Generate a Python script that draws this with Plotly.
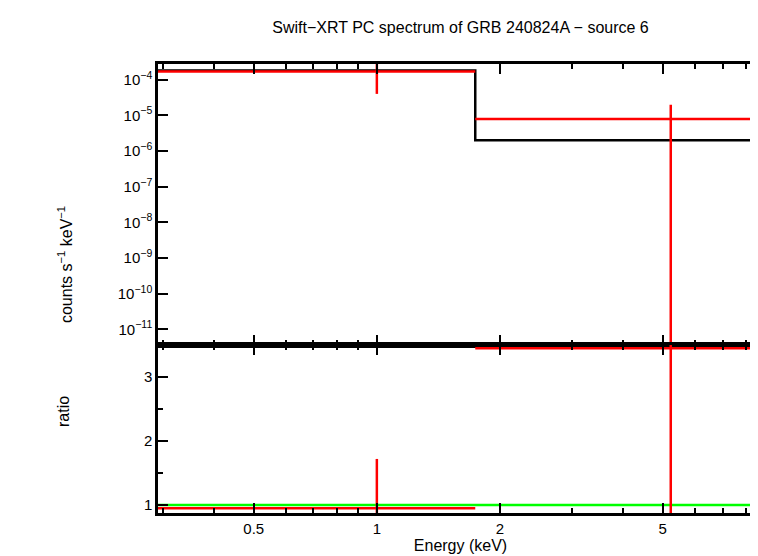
import plotly.graph_objects as go
from plotly.subplots import make_subplots

# model step (black)
model_x = [0.29, 1.74, 1.74, 8.8]
model_y = [1.8e-4, 1.8e-4, 2.0e-6, 2.0e-6]
# data points (red)
data_x = [1.0, 5.23]
data_xlo = [0.29, 1.74]
data_xhi = [1.74, 8.8]
data_y = [1.7e-4, 7.9e-6]
data_ylo = [4.0e-5, 1e-13]
data_yhi = [1e-3, 2.0e-5]
ratio_y = [0.95, 3.45]
ratio_lo = [0.5, 0.5]
ratio_hi = [1.72, 5.0]

ytick_vals = [1e-4, 1e-5, 1e-6, 1e-7, 1e-8, 1e-9, 1e-10, 1e-11]
ytick_text = ["10<sup>−4</sup>", "10<sup>−5</sup>", "10<sup>−6</sup>", "10<sup>−7</sup>",
              "10<sup>−8</sup>", "10<sup>−9</sup>", "10<sup>−10</sup>", "10<sup>−11</sup>"]
xtick_vals = [0.5, 1, 2, 5]
xtick_text = ["0.5", "1", "2", "5"]

fig = make_subplots(rows=2, cols=1, shared_xaxes=True, vertical_spacing=0,
                    row_heights=[0.626, 0.374])
red = "#ff0000"
fig.add_trace(go.Scatter(x=model_x, y=model_y, mode="lines",
                         line=dict(color="black", width=2.5)), row=1, col=1)
fig.add_trace(go.Scatter(
    x=data_x, y=data_y, mode="markers", marker=dict(size=1, color=red),
    error_x=dict(type="data", symmetric=False,
                 array=[h - x for h, x in zip(data_xhi, data_x)],
                 arrayminus=[x - l for l, x in zip(data_xlo, data_x)],
                 color=red, thickness=2.5, width=0),
    error_y=dict(type="data", symmetric=False,
                 array=[h - y for h, y in zip(data_yhi, data_y)],
                 arrayminus=[y - l for l, y in zip(data_ylo, data_y)],
                 color=red, thickness=2.5, width=0)), row=1, col=1)
fig.add_trace(go.Scatter(x=[0.29, 8.8], y=[1, 1], mode="lines",
                         line=dict(color="#00ff00", width=2.5)), row=2, col=1)
fig.add_trace(go.Scatter(
    x=data_x, y=ratio_y, mode="markers", marker=dict(size=1, color=red),
    error_x=dict(type="data", symmetric=False,
                 array=[h - x for h, x in zip(data_xhi, data_x)],
                 arrayminus=[x - l for l, x in zip(data_xlo, data_x)],
                 color=red, thickness=2.5, width=0),
    error_y=dict(type="data", symmetric=False,
                 array=[h - y for h, y in zip(ratio_hi, ratio_y)],
                 arrayminus=[y - l for l, y in zip(ratio_lo, ratio_y)],
                 color=red, thickness=2.5, width=0)), row=2, col=1)

ax = dict(showline=True, linecolor="black", linewidth=2.5, mirror="allticks",
          ticks="inside", tickcolor="black", tickwidth=1.5, showgrid=False, zeroline=False,
          tickfont=dict(size=15, color="black"), automargin=False)
fig.update_xaxes(type="log", range=[-0.535, 0.944], tickvals=xtick_vals, ticktext=xtick_text,
                 ticklen=10, minor=dict(ticks="inside", ticklen=5, tickcolor="black",
                                        tickvals=[0.3, 0.4, 0.6, 0.7, 0.8, 0.9, 3, 4, 6, 7, 8]), **ax)
fig.update_xaxes(showticklabels=False, row=1, col=1)
fig.update_xaxes(title=dict(text="Energy (keV)", font=dict(size=16, color="black"), standoff=2),
                 row=2, col=1)
fig.update_yaxes(type="log", range=[-11.44, -3.56], tickvals=ytick_vals, ticktext=ytick_text,
                 ticklen=10, row=1, col=1, **ax)
fig.update_yaxes(range=[0.875, 3.5], tickvals=[1, 2, 3], ticklen=10,
                 minor=dict(ticks="inside", ticklen=5, tickcolor="black", dtick=0.5),
                 row=2, col=1, **ax)
fig.add_annotation(text="counts s<sup>−1</sup> keV<sup>−1</sup>", textangle=-90,
                   xref="paper", yref="paper", x=0, y=0.687, xshift=-105, showarrow=False,
                   font=dict(size=16, color="black"))
fig.add_annotation(text="ratio", textangle=-90,
                   xref="paper", yref="paper", x=0, y=0.187, xshift=-105, showarrow=False,
                   font=dict(size=16, color="black"))
fig.update_layout(width=758, height=556, showlegend=False,
                  plot_bgcolor="white", paper_bgcolor="white",
                  margin=dict(l=150, r=3, t=56, b=51),
                  font=dict(family="Liberation Sans, Arial, sans-serif", color="black"),
                  title=dict(text="Swift−XRT PC spectrum of GRB 240824A − source 6",
                             x=0.597, xanchor="center", y=0.975, yanchor="top",
                             font=dict(size=16, color="black")))
fig.write_html("out.html")
